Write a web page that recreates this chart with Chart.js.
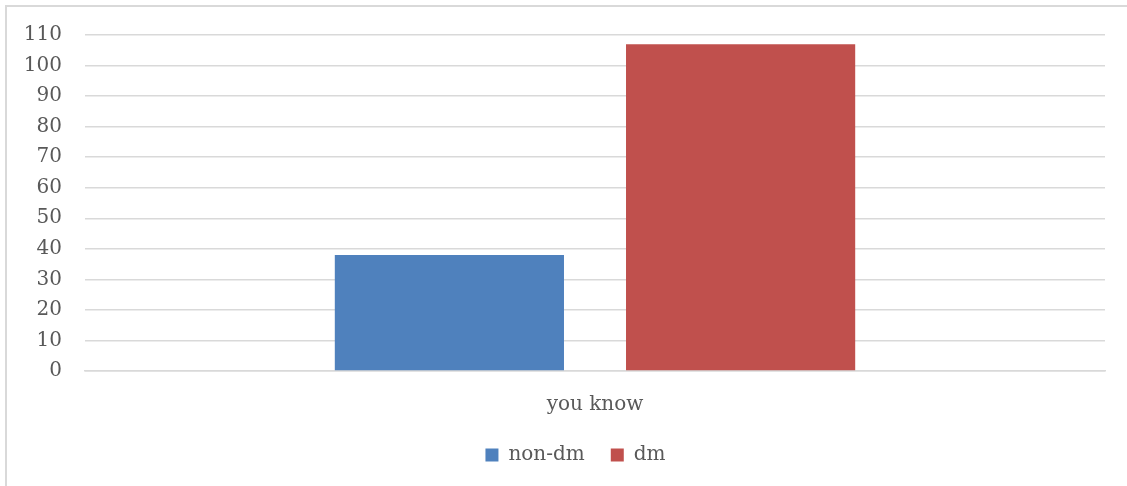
<!DOCTYPE html>
<html>
<head>
<meta charset="utf-8">
<script src="https://cdn.jsdelivr.net/npm/chart.js@4"></script>
<style>
  html, body { margin: 0; padding: 0; background: #fff; }
  .frame { position: absolute; left: 5px; top: 5px; width: 1130px; height: 490px; border: 2px solid #d9d9d9; box-sizing: border-box; }
  .container { position: absolute; left: 0; top: 0; width: 1127px; height: 486px; }
</style>
</head>
<body>
<div class="frame"></div>
<div class="container"><canvas id="chart" width="1127" height="486"></canvas></div>
<script>
var categories = ["you know"];
var nonDm = [38];
var dm = [107];
var seriesNames = ["non-dm", "dm"];

var ctx = document.getElementById("chart").getContext("2d");
Chart.defaults.font.family = "'DejaVu Serif', serif";
Chart.defaults.color = "#595959";

// legend sits a bit right of the plot centre in the original
var legendShift = {
    id: "legendShift",
    afterLayout: function (chart) {
        chart.legend.left += 36;
    }
};

var chart = new Chart(ctx, {
    type: "bar",
    data: {
        labels: categories,
        datasets: [
            { label: seriesNames[0], data: nonDm, backgroundColor: "#4f81bd" },
            { label: seriesNames[1], data: dm, backgroundColor: "#c0504d" }
        ]
    },
    plugins: [legendShift],
    options: {
        responsive: false,
        animation: false,
        categoryPercentage: 0.571,
        barPercentage: 0.787,
        layout: { padding: { left: 10, right: 22, top: 27, bottom: 11 } },
        plugins: {
            tooltip: { enabled: false },
            legend: {
                position: "bottom",
                labels: {
                    boxWidth: 13,
                    boxHeight: 13,
                    padding: 26,
                    font: { size: 20 },
                    color: "#595959"
                }
            }
        },
        scales: {
            x: {
                afterFit: function (s) { s.height = 48; },
                grid: { display: false, drawTicks: false },
                border: { color: "#d9d9d9", width: 1.5 },
                ticks: { font: { size: 20 }, padding: 22 }
            },
            y: {
                min: 0,
                max: 110,
                afterFit: function (s) { s.width = 75; },
                grid: { color: "#d9d9d9", lineWidth: 1.5, drawTicks: false },
                border: { display: false },
                ticks: { stepSize: 10, font: { size: 20 }, padding: 23 }
            }
        }
    }
});
</script>
</body>
</html>
